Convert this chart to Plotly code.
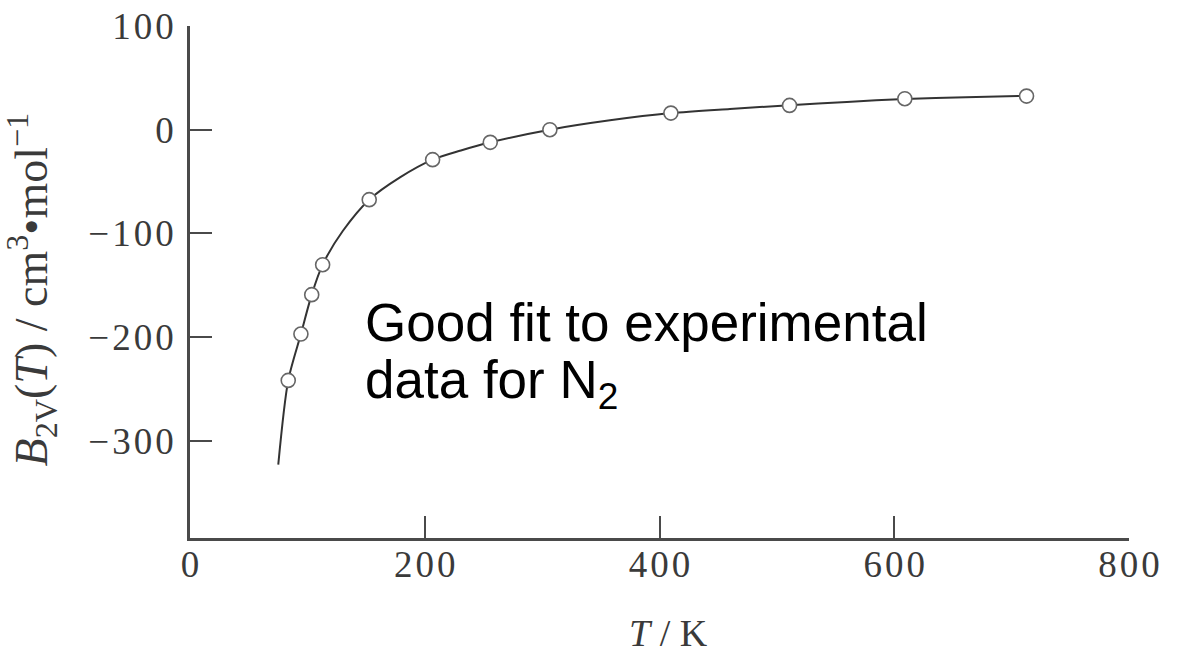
import plotly.graph_objects as go

# Measured second virial coefficients of N2 (T in K, B2V in cm^3/mol)
T_data = [83.7, 94.5, 103.7, 113.0, 152.7, 206.7, 255.8, 306.6, 409.7, 510.8, 609.0, 712.7]
B_data = [-241.8, -197.1, -159.1, -130.2, -67.5, -28.9, -12.2, 0.0, 16.0, 23.4, 29.9, 32.4]

# Fitted curve, sampled along its length
curve_T = [75.2, 83.7, 94.5, 103.7, 113.0, 130.3, 152.7, 178.9, 206.7, 230.8, 255.8,
           306.6, 357.8, 409.7, 460.0, 510.8, 559.6, 609.0, 661.0, 712.7]
curve_B = [-323.0, -241.8, -197.1, -159.1, -130.2, -97.5, -67.5, -46.0, -28.9, -20.1, -12.2,
           0.0, 9.0, 16.0, 20.0, 23.5, 26.8, 29.6, 31.4, 32.6]

x_ticks = [0, 200, 400, 600, 800]
x_ticktext = ["0", "2\u200a0\u200a0", "4\u200a0\u200a0", "6\u200a0\u200a0", "8\u200a0\u200a0"]
y_ticks = [100, 0, -100, -200, -300]
y_ticktext = ["1\u200a0\u200a0", "0", "\u2212\u200a1\u200a0\u200a0", "\u2212\u200a2\u200a0\u200a0", "\u2212\u200a3\u200a0\u200a0"]

SERIF = "Liberation Serif"
INK = "#3a3a3a"
AXIS = "#4a4a4a"

fig = go.Figure()
fig.add_trace(go.Scatter(
    x=curve_T, y=curve_B, mode="lines",
    line=dict(color="#333333", width=2, shape="spline", smoothing=0.8),
    hoverinfo="skip", showlegend=False,
))
fig.add_trace(go.Scatter(
    x=T_data, y=B_data, mode="markers",
    marker=dict(symbol="circle", size=14, color="white",
                line=dict(color="#666666", width=1.6)),
    showlegend=False,
))

axis_common = dict(
    showgrid=False, zeroline=False, showline=True, linecolor=AXIS, linewidth=2.5,
    ticks="inside", ticklen=22, tickwidth=1.5, tickcolor=AXIS, automargin=False,
    tickfont=dict(family=SERIF, size=37, color=INK),
)
fig.update_xaxes(range=[0, 800], tickmode="array", tickvals=x_ticks, ticktext=x_ticktext,
                 ticklabelstandoff=-8, **axis_common)
fig.update_yaxes(range=[-393.8, 100], tickmode="array", tickvals=y_ticks, ticktext=y_ticktext,
                 ticklabelstandoff=6, **axis_common)

annotations = [
    dict(text="<i>B</i><sub>2V</sub>(<i>T</i>) / cm<sup>3</sup>\u2022mol<sup>\u22121</sup>",
         xref="paper", yref="paper", x=-0.169, y=0.486, textangle=-90,
         showarrow=False, font=dict(family=SERIF, size=46, color=INK),
         xanchor="center", yanchor="middle"),
    dict(text="<i>T</i> / K", xref="paper", yref="paper", x=0.51, y=-0.2305,
         showarrow=False, font=dict(family=SERIF, size=38, color=INK),
         xanchor="center", yanchor="bottom"),
    dict(text="Good fit to experimental", xref="paper", yref="paper", x=0.1842, y=0.421,
         showarrow=False, font=dict(family="Liberation Sans", size=53, color="black"),
         xanchor="left", yanchor="middle"),
    dict(text="data for N<sub>2</sub>", xref="paper", yref="paper", x=0.1842, y=0.302,
         showarrow=False, font=dict(family="Liberation Sans", size=53, color="black"),
         xanchor="left", yanchor="middle"),
]

fig.update_layout(
    width=1180, height=656,
    margin=dict(l=190, r=51, t=26, b=118),
    paper_bgcolor="white", plot_bgcolor="white",
    annotations=annotations,
)

fig.write_html("out.html")
